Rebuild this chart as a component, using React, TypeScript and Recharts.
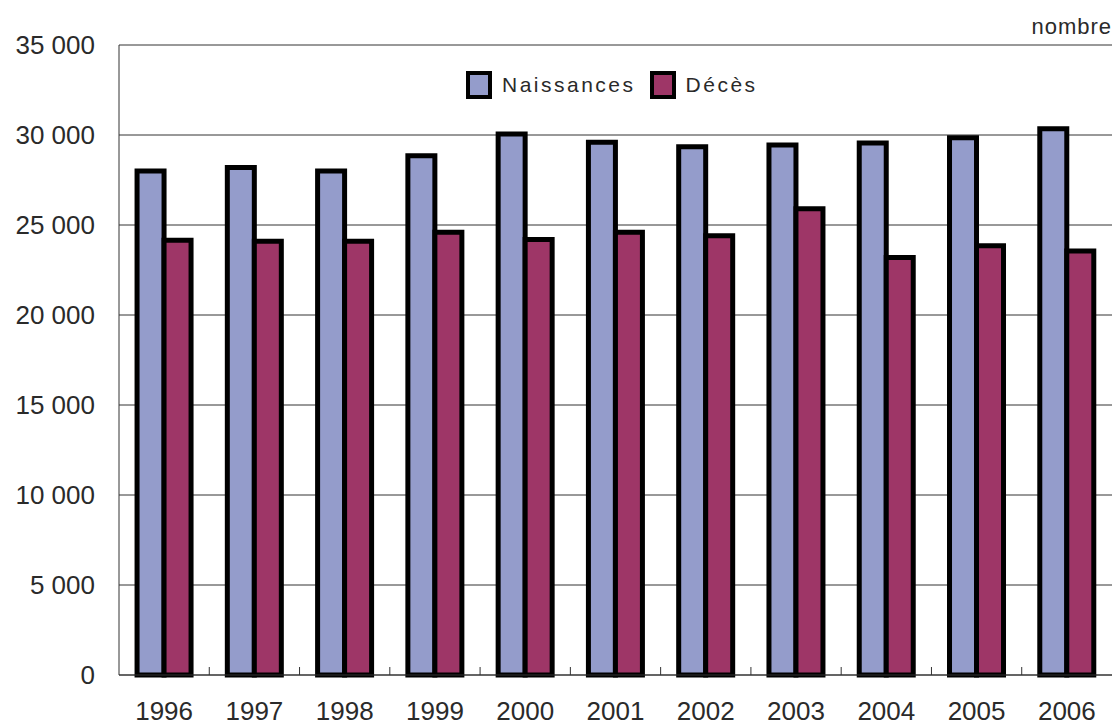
import { BarChart, Bar, XAxis, YAxis, CartesianGrid } from "recharts";

const years = ["1996", "1997", "1998", "1999", "2000", "2001", "2002", "2003", "2004", "2005", "2006"];
const naissances = [28000, 28200, 28000, 28850, 30050, 29600, 29350, 29450, 29550, 29850, 30350];
const deces = [24150, 24100, 24100, 24600, 24200, 24600, 24400, 25900, 23200, 23850, 23550];
const yTicks = [0, 5000, 10000, 15000, 20000, 25000, 30000, 35000];

const data = years.map((year, i) => ({
  year,
  naissances: naissances[i],
  deces: deces[i],
}));

const W = 1114;
const H = 727;
const AXIS_W = 119;
const RIGHT = 2;
const band = (W - AXIS_W - RIGHT) / years.length;
const FONT = "'Liberation Sans', Arial, sans-serif";
const TEXT = "#2a2a2a";
const BLUE = "#949CCB";
const RED = "#9E3667";

const fmt = (v: number) => (v === 0 ? "0" : `${Math.floor(v / 1000)} ${String(v % 1000).padStart(3, "0")}`);

function YTick({ x, y, payload }: any) {
  return (
    <text x={x - 22} y={y} dy={9} textAnchor="end" fill={TEXT} fontSize={26} fontFamily={FONT}>
      {fmt(payload.value)}
    </text>
  );
}

function XTick({ x, y, payload, index }: any) {
  const bx = x + band / 2;
  return (
    <g>
      {index < years.length - 1 && <line x1={bx} x2={bx} y1={y} y2={y - 8} stroke="#333" strokeWidth={1} />}
      <text x={x} y={y + 45} textAnchor="middle" fill={TEXT} fontSize={26} fontFamily={FONT}>
        {payload.value}
      </text>
    </g>
  );
}

function ChartLegend() {
  const item = (color: string, label: string) => (
    <div style={{ display: "flex", alignItems: "center", marginRight: 14 }}>
      <div style={{ width: 18, height: 20, background: color, border: "4px solid #000", marginRight: 10 }} />
      <span style={{ fontSize: 21, letterSpacing: 2.5, color: TEXT, fontFamily: FONT }}>{label}</span>
    </div>
  );
  return (
    <div style={{ position: "absolute", top: 71, left: 466, display: "flex" }}>
      {item(BLUE, "Naissances")}
      {item(RED, "Décès")}
    </div>
  );
}

export default function App() {
  return (
    <div style={{ position: "absolute", left: 0, top: 0, width: W, height: H, background: "#fff" }}>
      <div
        style={{
          position: "absolute", right: 2, top: 14, fontSize: 22, letterSpacing: 1,
          color: TEXT, fontFamily: FONT,
        }}
      >
        nombre
      </div>
      <BarChart
        width={W}
        height={H}
        data={data}
        margin={{ top: 45, right: RIGHT, left: 0, bottom: 0 }}
        barCategoryGap="20%"
        barGap={0}
      >
        <CartesianGrid horizontal vertical={false} stroke="#333" />
        <XAxis
          dataKey="year"
          height={52}
          tickLine={false}
          tickSize={0}
          tickMargin={0}
          axisLine={{ stroke: "#333" }}
          tick={<XTick />}
          interval={0}
        />
        <YAxis
          width={AXIS_W}
          domain={[0, 35000]}
          ticks={yTicks}
          tickLine={false}
          tickSize={0}
          axisLine={{ stroke: "#333" }}
          tick={<YTick />}
        />
        <YAxis yAxisId="right" orientation="right" width={0} tick={false} tickLine={false} axisLine={{ stroke: "#333" }} />
        <Bar dataKey="naissances" name="Naissances" fill={BLUE} stroke="#000" strokeWidth={5} isAnimationActive={false} />
        <Bar dataKey="deces" name="Décès" fill={RED} stroke="#000" strokeWidth={5} isAnimationActive={false} />
      </BarChart>
      <ChartLegend />
    </div>
  );
}
